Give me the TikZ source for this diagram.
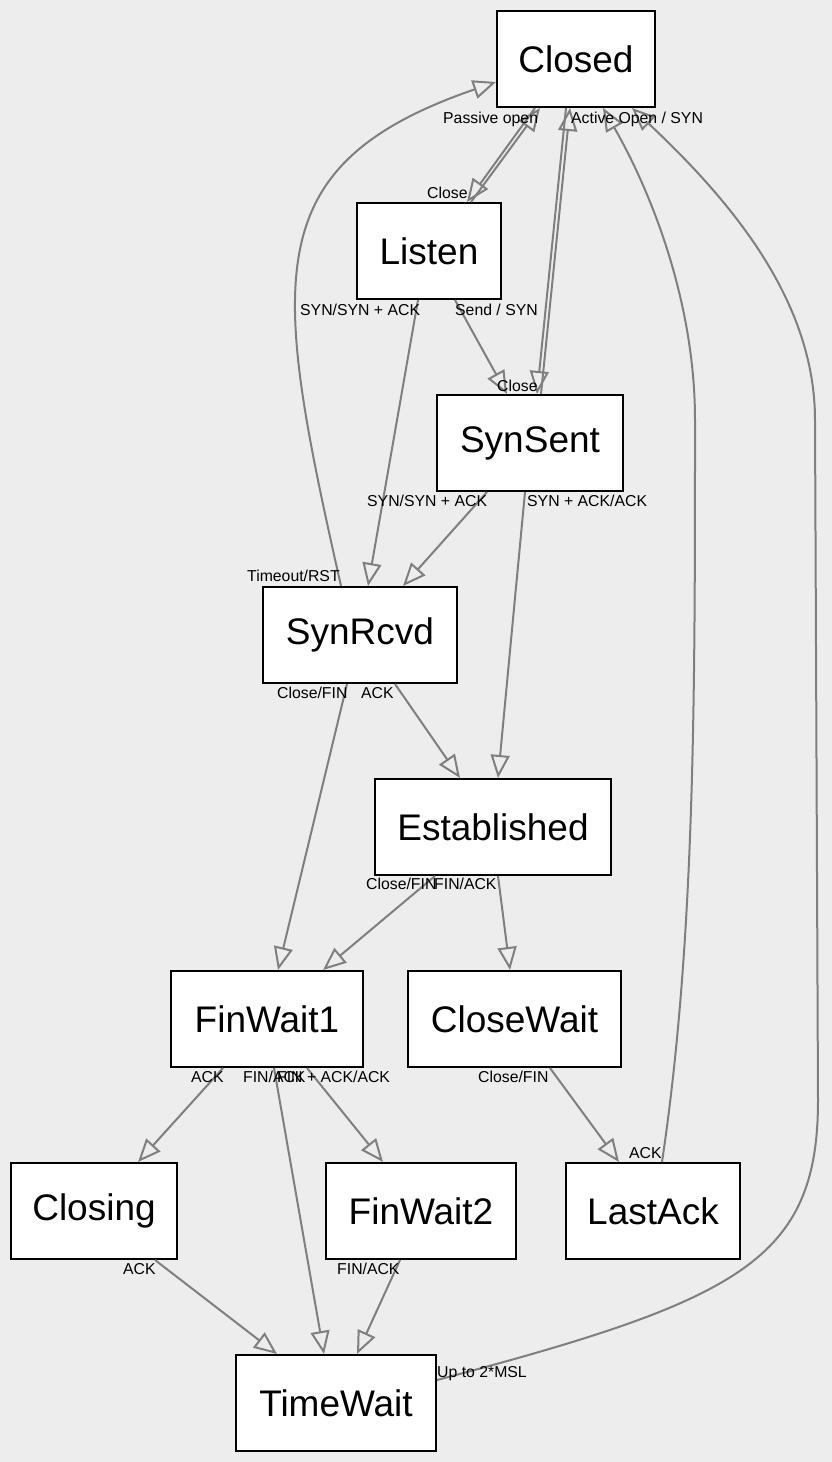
\documentclass[tikz,border=0pt]{standalone}
\usepackage{fontspec}
\setmainfont{Liberation Sans}
\usetikzlibrary{arrows.meta}
\definecolor{bgcol}{HTML}{EDEDED}
\definecolor{edgecol}{HTML}{7F7F7F}

\begin{document}
\begin{tikzpicture}[x=1pt, y=-1pt,
    state/.style={draw, line width=2pt, fill=white, minimum height=96pt,
      inner sep=0pt, font=\fontsize{37}{40}\selectfont},
    trans/.style={draw=edgecol, line width=2pt,
      -{Triangle[open, length=23pt, width=19pt]}},
    lbl/.style={anchor=base west, inner sep=0pt, font=\fontsize{15.8}{18}\selectfont}]
    % Hintergrund
    \fill[bgcol] (0,0) rectangle (832,1462);
    % Zustaende
    \node[state, minimum width=158pt] (Closed) at (576,59) {Closed};
    \node[state, minimum width=144pt] (Listen) at (429,251) {Listen};
    \node[state, minimum width=186pt] (SynSent) at (530,443) {SynSent};
    \node[state, minimum width=194pt] (SynRcvd) at (360,635) {SynRcvd};
    \node[state, minimum width=236pt] (Established) at (493,827) {Established};
    \node[state, minimum width=192pt] (FinWait1) at (267,1019) {FinWait1};
    \node[state, minimum width=213pt] (CloseWait) at (514.5,1019) {CloseWait};
    \node[state, minimum width=166pt] (Closing) at (94,1211) {Closing};
    \node[state, minimum width=190pt] (FinWait2) at (421,1211) {FinWait2};
    \node[state, minimum width=174pt] (LastAck) at (653,1211) {LastAck};
    \node[state, minimum width=200pt] (TimeWait) at (336,1403) {TimeWait};
    % Uebergaenge oben
    \draw[trans] ([xshift=-41pt]Closed.south) -- ([xshift=38pt]Listen.north);
    \draw[trans] ([xshift=42pt]Listen.north) -- ([xshift=-36pt]Closed.south);
    \draw[trans] ([xshift=-10pt]Closed.south) -- ([xshift=7pt]SynSent.north);
    \draw[trans] ([xshift=11pt]SynSent.north) -- ([xshift=-6pt]Closed.south);
    \draw[trans] ([xshift=26pt]Listen.south) -- ([xshift=-23pt]SynSent.north);
    \draw[trans] ([xshift=-11pt]Listen.south) -- ([xshift=8pt]SynRcvd.north);
    \draw[trans] ([xshift=-19pt]SynRcvd.north)
        .. controls (272,280) and (255,165) .. ([yshift=-23pt]Closed.west);
    \draw[trans] ([xshift=-43pt]SynSent.south) -- ([xshift=43pt]SynRcvd.north);
    \draw[trans] ([xshift=-5pt]SynSent.south) -- ([xshift=5pt]Established.north);
    \draw[trans] ([xshift=35pt]SynRcvd.south) -- ([xshift=-33pt]Established.north);
    % Uebergaenge Mitte
    \draw[trans] ([xshift=-13pt]SynRcvd.south) -- ([xshift=11pt]FinWait1.north);
    \draw[trans] ([xshift=-58pt]Established.south) -- ([xshift=56pt]FinWait1.north);
    \draw[trans] ([xshift=5pt]Established.south) -- ([xshift=-4.5pt]CloseWait.north);
    \draw[trans] ([xshift=-44pt]FinWait1.south) -- ([xshift=44pt]Closing.north);
    \draw[trans] ([xshift=7pt]FinWait1.south) -- ([xshift=-12pt]TimeWait.north);
    \draw[trans] ([xshift=40pt]FinWait1.south) -- ([xshift=-38pt]FinWait2.north);
    \draw[trans] ([xshift=35.5pt]CloseWait.south) -- ([xshift=-34pt]LastAck.north);
    \draw[trans] ([xshift=9pt]LastAck.north)
        .. controls (695,940) and (695,700) .. (695,420)
        .. controls (695,300) and (650,190) .. ([xshift=27pt]Closed.south);
    % Uebergaenge unten
    \draw[trans] ([xshift=61pt]Closing.south) -- ([xshift=-59pt]TimeWait.north);
    \draw[trans] ([xshift=-21pt]FinWait2.south) -- ([xshift=21pt]TimeWait.north);
    \draw[trans] ([yshift=23pt]TimeWait.east)
        .. controls (740,1300) and (818,1260) .. (818,1100) -- (815,420)
        .. controls (815,300) and (730,200) .. ([xshift=56pt]Closed.south);
    % Beschriftungen
    \node[lbl] (tPassive) at (443,123) {Passive open};
    \node[lbl] (tActive) at (571,123) {Active Open / SYN};
    \node[lbl] (tListenClose) at (427,198) {Close};
    \node[lbl] (tListenSyn) at (300,315) {SYN/SYN + ACK};
    \node[lbl] (tSend) at (455,315) {Send / SYN};
    \node[lbl] (tSentClose) at (497,391) {Close};
    \node[lbl] (tSentSyn) at (367,506) {SYN/SYN + ACK};
    \node[lbl] (tSentSynAck) at (527,506) {SYN + ACK/ACK};
    \node[lbl] (tTimeout) at (247,581) {Timeout/RST};
    \node[lbl] (tRcvdClose) at (277,698) {Close/FIN};
    \node[lbl] (tRcvdAck) at (361,698) {ACK};
    \node[lbl] (tEstClose) at (366,889) {Close/FIN};
    \node[lbl] (tEstFin) at (434,889) {FIN/ACK};
    \node[lbl] (tFw1Ack) at (191,1082) {ACK};
    \node[lbl] (tFw1Fin) at (243,1082) {FIN/ACK};
    \node[lbl] (tFw1FinAck) at (277,1082) {FIN + ACK/ACK};
    \node[lbl] (tCwClose) at (478,1082) {Close/FIN};
    \node[lbl] (tLaAck) at (629,1158) {ACK};
    \node[lbl] (tClosingAck) at (123,1274) {ACK};
    \node[lbl] (tFw2Fin) at (337,1274) {FIN/ACK};
    \node[lbl] (tMsl) at (437,1377) {Up to 2*MSL};
\end{tikzpicture}
\end{document}
